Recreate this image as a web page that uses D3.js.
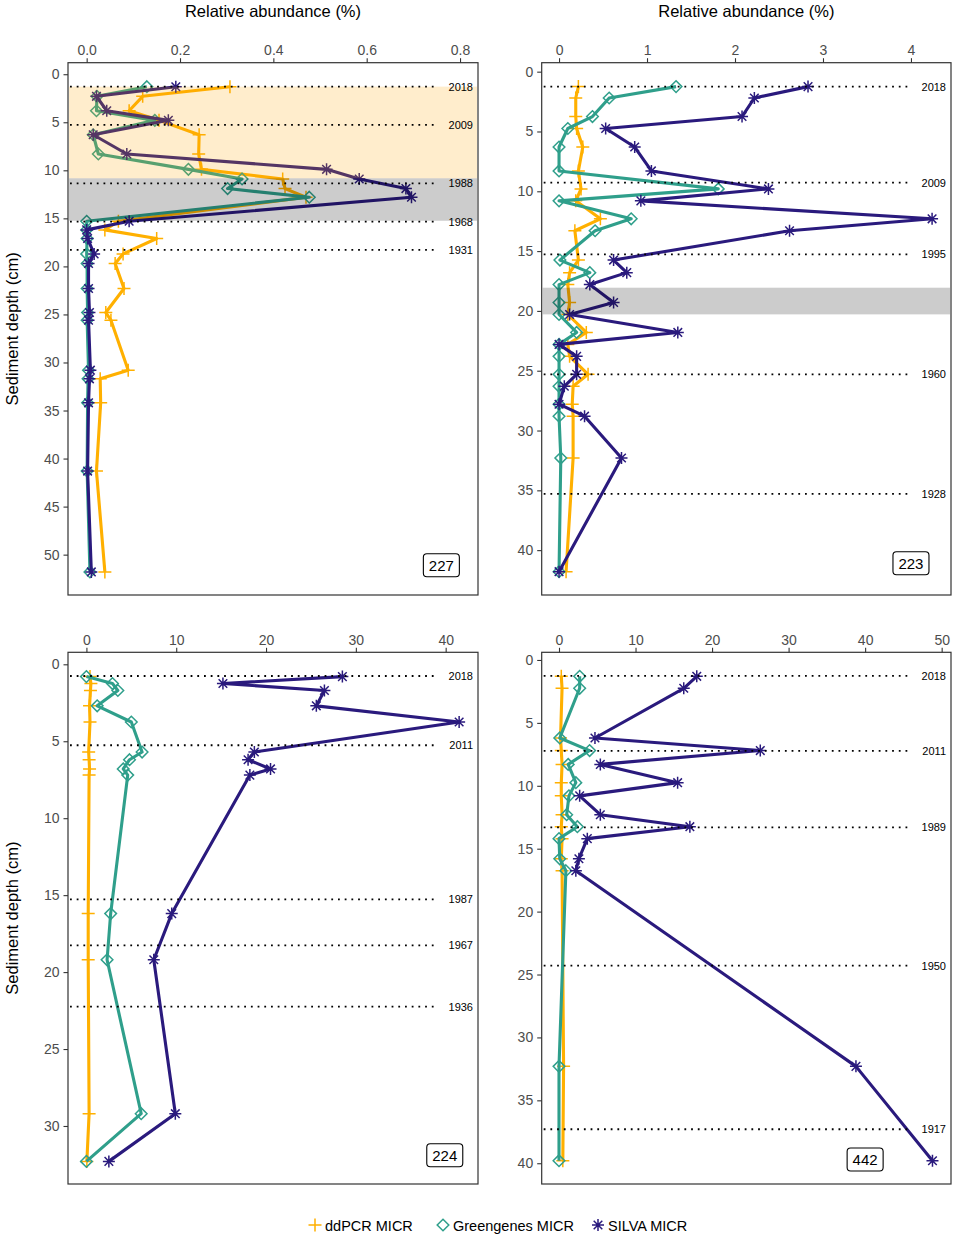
<!DOCTYPE html>
<html><head><meta charset="utf-8">
<script src="https://cdn.jsdelivr.net/npm/d3@7/dist/d3.min.js"></script>
<style>
body{margin:0;background:#fff;}
svg{display:block;font-family:"Liberation Sans",Arial,Helvetica,sans-serif;}
</style></head>
<body><svg id="c" width="957" height="1240"></svg>
<script>
// ---------- DATA ----------
const seriesNames = ["ddPCR MICR", "Greengenes MICR", "SILVA MICR"];
const coreIds = ["227", "223", "224", "442"];

const depth227 = [1.3, 2.3, 3.8, 4.8, 6.3, 8.3, 9.9, 10.9, 11.9, 12.8, 15.3, 16.2, 17.1, 18.7, 19.7, 22.3, 24.8, 25.6, 30.8, 31.7, 34.2, 41.3, 51.8];
const ddpcr227 = [0.307, 0.12, 0.091, 0.155, 0.241, 0.24, 0.246, 0.42, 0.425, 0.47, 0.068, 0.039, 0.15, 0.078, 0.061, 0.08, 0.041, 0.052, 0.089, 0.029, 0.030, 0.021, 0.039];
const green227 = [0.129, 0.022, 0.021, 0.146, 0.014, 0.025, 0.218, 0.333, 0.302, 0.477, 0.0, 0.0, 0.001, 0.0, 0.001, 0.001, 0.002, 0.001, 0.004, 0.003, 0.002, 0.001, 0.007];
const silva227 = [0.191, 0.021, 0.043, 0.175, 0.014, 0.086, 0.514, 0.584, 0.684, 0.696, 0.091, 0.0, 0.002, 0.016, 0.004, 0.004, 0.006, 0.004, 0.008, 0.006, 0.004, 0.002, 0.010];

const depth223 = [1.25, 2.2, 3.75, 4.75, 6.3, 8.3, 9.8, 10.8, 12.3, 13.3, 15.75, 16.8, 17.8, 19.3, 20.3, 21.8, 22.8, 23.8, 25.3, 26.3, 27.8, 28.8, 32.3, 41.8];
const ddpcr223 = [0.22, 0.19, 0.19, 0.2, 0.27, 0.22, 0.25, 0.19, 0.47, 0.18, 0.22, 0.12, 0.1, 0.12, 0.1, 0.31, 0.1, 0.12, 0.33, 0.16, 0.15, 0.16, 0.16, 0.08];
const green223 = [1.33, 0.57, 0.38, 0.10, 0.0, 0.0, 1.81, 0.0, 0.82, 0.41, 0.01, 0.35, 0.0, 0.0, 0.0, 0.2, 0.0, 0.0, 0.0, 0.0, 0.0, 0.0, 0.02, 0.0];
const silva223 = [2.83, 2.22, 2.08, 0.53, 0.86, 1.05, 2.38, 0.93, 4.24, 2.62, 0.62, 0.77, 0.35, 0.62, 0.12, 1.35, 0.0, 0.2, 0.2, 0.06, 0.0, 0.29, 0.71, 0.0];

const depth224 = [0.8, 1.25, 1.7, 2.7, 3.75, 5.7, 6.2, 6.8, 7.2, 16.2, 19.2, 29.2, 32.3];
const ddpcr224 = [0.4, 0.5, 0.45, 0.35, 0.4, 0.25, 0.3, 0.35, 0.3, 0.2, 0.2, 0.3, 0.05];
const green224 = [0.0, 2.9, 3.5, 1.2, 5.0, 6.2, 4.8, 4.1, 4.6, 2.7, 2.3, 6.1, 0.0];
const silva224 = [28.5, 15.2, 26.5, 25.6, 41.5, 18.7, 18.0, 20.5, 18.2, 9.5, 7.5, 9.9, 2.5];

const depth442 = [1.3, 2.25, 6.2, 7.2, 8.3, 9.75, 10.8, 12.3, 13.25, 14.2, 15.8, 16.75, 32.3, 39.8];
const ddpcr442 = [0.3, 0.4, 0.2, 0.3, 0.4, 0.3, 0.3, 0.4, 0.3, 0.4, 0.3, 0.4, 0.6, 0.5];
const green442 = [2.7, 2.7, 0.1, 4.0, 1.2, 2.2, 1.3, 1.0, 2.4, 0.0, 0.1, 0.9, 0.0, 0.0];
const silva442 = [18.0, 16.3, 4.7, 26.3, 5.4, 15.5, 2.7, 5.4, 17.1, 3.7, 2.6, 2.2, 38.8, 48.8];

const dateDepth227 = [1.29, 5.28, 11.35, 15.33, 18.28];
const dateLabel227 = ["2018", "2009", "1988", "1968", "1931"];
const dateDepth223 = [1.25, 9.28, 15.27, 25.3, 35.3];
const dateLabel223 = ["2018", "2009", "1995", "1960", "1928"];
const dateDepth224 = [0.76, 5.26, 15.27, 18.26, 22.25];
const dateLabel224 = ["2018", "2011", "1987", "1967", "1936"];
const dateDepth442 = [1.27, 7.23, 13.3, 24.3, 37.3];
const dateLabel442 = ["2018", "2011", "1989", "1950", "1917"];

// shaded depth intervals [top, bottom]
const orangeBand227 = [1.29, 10.83];
const greyBand227 = [10.83, 15.25];
const greyBand223 = [18.06, 20.29];

const xTicks227 = [0, 0.2, 0.4, 0.6, 0.8];
const xTicks223 = [0, 1, 2, 3, 4];
const xTicks224 = [0, 10, 20, 30, 40];
const xTicks442 = [0, 10, 20, 30, 40, 50];
const yTicks227 = [0, 5, 10, 15, 20, 25, 30, 35, 40, 45, 50];
const yTicks223 = [0, 5, 10, 15, 20, 25, 30, 35, 40];
const yTicks224 = [0, 5, 10, 15, 20, 25, 30];
const yTicks442 = [0, 5, 10, 15, 20, 25, 30, 35, 40];

// core label anchor (data units: abundance, depth)
const labelAt = {"227": [0.76, 51.1], "223": [4.0, 41.1], "224": [39.9, 31.9], "442": [40.0, 39.7]};

// ---------- STYLE / LAYOUT ----------
const colors = ["#FFB000", "#2F9F8B", "#2A1A7D"];
const svg = d3.select("#c");

const panels = [
  {id:"227", depth:depth227, vals:[ddpcr227, green227, silva227], dd:dateDepth227, dl:dateLabel227,
   box:[68, 62.7, 478, 595], xd:[-0.040, 0.8385], yd:[-1.2, 54.2], xt:xTicks227, yt:yTicks227, fmt:d3.format(".1f"),
   bands:[{r:orangeBand227, fill:"#FFA500", op:0.2},{r:greyBand227, fill:"#000", op:0.2}], xtitle:true, ytitle:true},
  {id:"223", depth:depth223, vals:[ddpcr223, green223, silva223], dd:dateDepth223, dl:dateLabel223,
   box:[541.7, 62.7, 951, 595], xd:[-0.197, 4.455], yd:[-0.75, 43.75], xt:xTicks223, yt:yTicks223, fmt:d3.format("d"),
   bands:[{r:greyBand223, fill:"#000", op:0.2}], xtitle:true, ytitle:false},
  {id:"224", depth:depth224, vals:[ddpcr224, green224, silva224], dd:dateDepth224, dl:dateLabel224,
   box:[68, 652.3, 478, 1184], xd:[-2.05, 43.6], yd:[-0.78, 33.77], xt:xTicks224, yt:yTicks224, fmt:d3.format("d"),
   bands:[], xtitle:false, ytitle:true},
  {id:"442", depth:depth442, vals:[ddpcr442, green442, silva442], dd:dateDepth442, dl:dateLabel442,
   box:[541.7, 652.3, 951, 1184], xd:[-2.26, 51.22], yd:[-0.61, 41.65], xt:xTicks442, yt:yTicks442, fmt:d3.format("d"),
   bands:[], xtitle:false, ytitle:false}
];

function markerPath(k){
  if(k===0) return "M-6.5,0H6.5M0,-6.5V6.5";
  if(k===1) return "M0,-5.8L5.8,0L0,5.8L-5.8,0Z";
  return "M-6,0H6M0,-6V6M-4.3,-4.3L4.3,4.3M-4.3,4.3L4.3,-4.3";
}

panels.forEach(p=>{
  const [bx0,by0,bx1,by1] = p.box;
  const x = d3.scaleLinear().domain(p.xd).range([bx0,bx1]);
  const y = d3.scaleLinear().domain(p.yd).range([by0,by1]);
  const g = svg.append("g");

  // series
  p.vals.forEach((arr,k)=>{
    const pts = p.depth.map((d,i)=>({d:d, v:arr[i]}));
    g.append("path").datum(pts)
      .attr("d", d3.line().x(o=>x(o.v)).y(o=>y(o.d)))
      .attr("fill","none").attr("stroke",colors[k]).attr("stroke-width",3.1)
      .attr("stroke-linejoin","round");
    g.selectAll(null).data(pts).enter().append("path")
      .attr("transform",o=>`translate(${x(o.v)},${y(o.d)})`)
      .attr("d", markerPath(k))
      .attr("fill","none").attr("stroke",colors[k]).attr("stroke-width",1.5);
  });

  // bands (drawn over lines, semi-transparent)
  p.bands.forEach(b=>{
    g.append("rect").attr("x",bx0+1).attr("width",bx1-bx0-2)
      .attr("y",y(b.r[0])).attr("height",y(b.r[1])-y(b.r[0]))
      .attr("fill",b.fill).attr("fill-opacity",b.op);
  });

  // date lines
  p.dd.forEach((d,i)=>{
    g.append("line").attr("x1",bx0+2).attr("x2",bx1-41)
      .attr("y1",y(d)).attr("y2",y(d))
      .attr("stroke","#000").attr("stroke-width",1.8)
      .attr("stroke-dasharray","1.8,4.9");
    g.append("text").attr("x",bx1-5).attr("y",y(d)+4)
      .attr("text-anchor","end").attr("font-size",11).attr("fill","#000")
      .text(p.dl[i]);
  });

  // box
  g.append("rect").attr("x",bx0).attr("y",by0).attr("width",bx1-bx0).attr("height",by1-by0)
    .attr("fill","none").attr("stroke","#333").attr("stroke-width",1.2);

  // axes
  const ax = g.append("g").attr("transform",`translate(0,${by0})`)
    .call(d3.axisTop(x).tickValues(p.xt).tickFormat(p.fmt).tickSize(4.5).tickPadding(3));
  const ay = g.append("g").attr("transform",`translate(${bx0},0)`)
    .call(d3.axisLeft(y).tickValues(p.yt).tickFormat(d3.format("d")).tickSize(4.5).tickPadding(4));
  [ax,ay].forEach(a=>{
    a.select(".domain").remove();
    a.selectAll(".tick line").attr("stroke","#333").attr("stroke-width",1.1);
    a.selectAll(".tick text").attr("fill","#4D4D4D").attr("font-size",14)
      .attr("font-family","'Liberation Sans',Arial,sans-serif");
  });

  // core label
  const la = labelAt[p.id];
  const lx = x(la[0]), ly = y(la[1]);
  g.append("rect").attr("x",lx-18).attr("y",ly-11.5).attr("width",36).attr("height",23)
    .attr("rx",3.5).attr("fill","#fff").attr("stroke","#000").attr("stroke-width",1.1);
  g.append("text").attr("x",lx).attr("y",ly+5.3).attr("text-anchor","middle")
    .attr("font-size",15).attr("fill","#000").text(p.id);

  if(p.xtitle){
    svg.append("text").attr("x",(bx0+bx1)/2).attr("y",17).attr("text-anchor","middle")
      .attr("font-size",16.5).attr("fill","#000").text("Relative abundance (%)");
  }
  if(p.ytitle){
    const cy = (by0+by1)/2;
    svg.append("text").attr("transform",`translate(18,${cy}) rotate(-90)`)
      .attr("text-anchor","middle").attr("font-size",16.5).attr("fill","#000")
      .text("Sediment depth (cm)");
  }
});

// legend
const legX = [315, 443, 598];
const legY = 1225;
seriesNames.forEach((s,k)=>{
  svg.append("path").attr("transform",`translate(${legX[k]},${legY})`)
    .attr("d", markerPath(k)).attr("fill","none").attr("stroke",colors[k]).attr("stroke-width",1.5);
  svg.append("text").attr("x",legX[k]+10).attr("y",legY+5.5)
    .attr("font-size",14.5).attr("fill","#000").text(s);
});
</script></body></html>
